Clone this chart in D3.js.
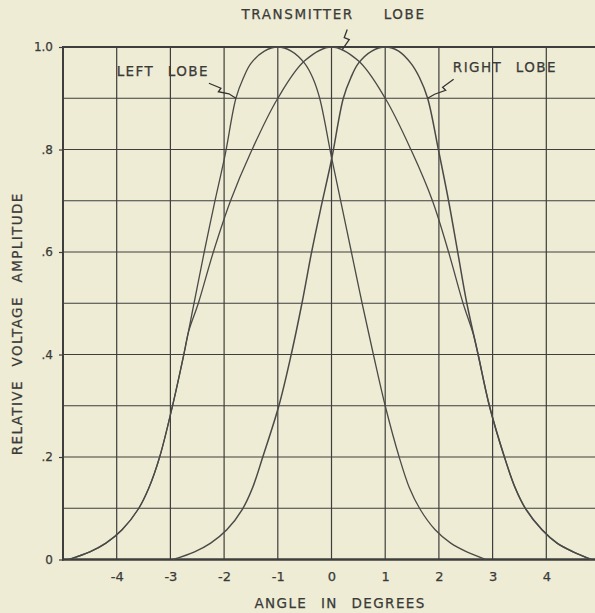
<!DOCTYPE html>
<html>
<head>
<meta charset="utf-8">
<script src="https://cdn.jsdelivr.net/npm/d3@7"></script>
<style>
  body { margin: 0; background: #eeecd5; }
  svg { display: block; }
  text { font-family: "DejaVu Sans", sans-serif; fill: #3a3a38; stroke: #3a3a38; stroke-width: 0.25px; }
</style>
</head>
<body>
<script>
// tick labels
var angleTicks = [-4, -3, -2, -1, 0, 1, 2, 3, 4];
var ampTicks = [0, 0.2, 0.4, 0.6, 0.8, 1.0];
var ampTickLabels = ["0", ".2", ".4", ".6", ".8", "1.0"];

// [angle in degrees, relative amplitude]
var leftLobe = [
  [-4.9, 0], [-4.5, 0.015], [-4.2, 0.032], [-3.9, 0.058], [-3.6, 0.098], [-3.4, 0.14],
  [-3.2, 0.20], [-2.96, 0.30], [-2.75, 0.40], [-2.56, 0.50], [-2.37, 0.60], [-2.19, 0.69],
  [-1.98, 0.79], [-1.78, 0.90], [-1.64, 0.94], [-1.5, 0.968], [-1.25, 0.992], [-1, 1],
  [-0.75, 0.992], [-0.5, 0.968], [-0.35, 0.94], [-0.22, 0.90], [0, 0.785], [0.2, 0.685],
  [0.37, 0.60], [0.57, 0.50], [0.78, 0.40], [1.0, 0.30], [1.26, 0.20], [1.45, 0.14],
  [1.65, 0.098], [1.93, 0.058], [2.22, 0.032], [2.52, 0.015], [2.88, 0]
];
var rightLobe = [
  [-2.95, 0], [-2.55, 0.015], [-2.25, 0.032], [-1.95, 0.058], [-1.66, 0.098], [-1.47, 0.14],
  [-1.28, 0.20], [-0.98, 0.30], [-0.75, 0.40], [-0.55, 0.50], [-0.37, 0.60], [-0.2, 0.685],
  [0, 0.78], [0.22, 0.90], [0.36, 0.94], [0.5, 0.968], [0.75, 0.992], [1, 1], [1.25, 0.992],
  [1.48, 0.968], [1.64, 0.94], [1.79, 0.90], [1.99, 0.80], [2.18, 0.70], [2.35, 0.60],
  [2.52, 0.50], [2.73, 0.40], [2.94, 0.30], [3.22, 0.20], [3.42, 0.14], [3.62, 0.098],
  [3.92, 0.058], [4.2, 0.032], [4.5, 0.015], [4.84, 0]
];
var transmitterLobe = [
  [-4.9, 0], [-4.5, 0.015], [-4.2, 0.032], [-3.9, 0.058], [-3.6, 0.098], [-3.4, 0.14],
  [-3.2, 0.20], [-2.96, 0.30], [-2.75, 0.40], [-2.66, 0.445], [-2.48, 0.50], [-2.2, 0.60],
  [-1.88, 0.70], [-1.5, 0.795], [-1, 0.90], [-0.5, 0.973], [0, 1], [0.5, 0.973], [1, 0.90],
  [1.5, 0.795], [1.88, 0.70], [2.18, 0.60], [2.45, 0.50], [2.64, 0.44], [2.73, 0.40],
  [2.94, 0.30], [3.22, 0.20], [3.42, 0.14], [3.62, 0.098], [3.92, 0.058], [4.2, 0.032],
  [4.5, 0.015], [4.84, 0]
];

var width = 595, height = 613;
var ink = "#3e3e3c";

var svg = d3.select("body").append("svg").attr("width", width).attr("height", height);

var x = d3.scaleLinear().domain([-5, 5]).range([63, 600]);
var y = d3.scaleLinear().domain([0, 1]).range([559.5, 47]);

// grid
var grid = svg.append("g").attr("stroke", ink).attr("stroke-width", 1.2);
grid.selectAll("line.v").data(d3.range(-4, 6)).enter().append("line")
  .attr("class", "v")
  .attr("x1", function(d){ return x(d); }).attr("x2", function(d){ return x(d); })
  .attr("y1", y(0)).attr("y2", y(1));
grid.selectAll("line.h").data(d3.range(1, 10).map(function(d){ return d / 10; })).enter().append("line")
  .attr("class", "h")
  .attr("x1", x(-5)).attr("x2", x(5))
  .attr("y1", function(d){ return y(d); }).attr("y2", function(d){ return y(d); });

// frame
svg.append("line").attr("x1", x(-5)).attr("x2", x(5)).attr("y1", y(1)).attr("y2", y(1))
  .attr("stroke", ink).attr("stroke-width", 1.8);
svg.append("line").attr("x1", x(-5)).attr("x2", x(-5)).attr("y1", y(1) - 1).attr("y2", y(0) + 1)
  .attr("stroke", ink).attr("stroke-width", 2);
svg.append("line").attr("x1", x(-5) - 1).attr("x2", x(5)).attr("y1", y(0)).attr("y2", y(0))
  .attr("stroke", ink).attr("stroke-width", 2.4);

// axes labels
var xAxis = d3.axisBottom(x).tickValues(angleTicks).tickSize(0).tickPadding(12)
  .tickFormat(function(d){ return d; });
var gx = svg.append("g").attr("transform", "translate(0," + y(0) + ")").call(xAxis);
gx.select(".domain").remove();
gx.selectAll("text").style("font-size", "13px").attr("fill", ink);

var yAxis = d3.axisLeft(y).tickValues(ampTicks).tickSize(4).tickPadding(6)
  .tickFormat(function(d, i){ return ampTickLabels[i]; });
var gy = svg.append("g").attr("transform", "translate(" + x(-5) + ",0)").call(yAxis);
gy.select(".domain").remove();
gy.selectAll("line").attr("stroke", ink).attr("stroke-width", 1.2);
gy.selectAll("text").style("font-size", "12px").attr("fill", ink);

// lobes
var line = d3.line()
  .x(function(d){ return x(d[0]); })
  .y(function(d){ return y(d[1]); })
  .curve(d3.curveCatmullRom.alpha(0.5));

[transmitterLobe, leftLobe, rightLobe].forEach(function(lobe, i){
  svg.append("path").datum(lobe)
    .attr("fill", "none")
    .attr("stroke", "#4a4a48")
    .attr("stroke-width", i == 2 ? 1.5 : 1.3)
    .attr("d", line);
});

// titles
var label = { "font-size": "13.5px", "letter-spacing": "1.4px", "word-spacing": "8px" };
function styleText(t){ for (var k in label) t.style(k, label[k]); return t; }

styleText(svg.append("text").attr("x", x(0) + 2).attr("y", 19).attr("text-anchor", "middle"))
  .style("word-spacing", "24px").style("letter-spacing", "1.6px").text("TRANSMITTER LOBE");
styleText(svg.append("text").attr("x", x(-4)).attr("y", y(0.943))
  .text("LEFT LOBE"));
styleText(svg.append("text").attr("x", x(2.26)).attr("y", y(0.952))
  .text("RIGHT LOBE"));
styleText(svg.append("text").attr("x", x(0.16)).attr("y", 608).attr("text-anchor", "middle")
  .text("ANGLE IN DEGREES"));
styleText(svg.append("text").attr("transform", "translate(22," + y(0.46) + ") rotate(-90)")
  .attr("text-anchor", "middle").text("RELATIVE VOLTAGE AMPLITUDE"));

// leader squiggles, offsets from the point on the curve
function leader(tip, pts){
  var tx = x(tip[0]), ty = y(tip[1]);
  svg.append("path")
    .attr("d", "M" + pts.map(function(p){ return (tx + p[0]) + "," + (ty + p[1]); }).join("L"))
    .attr("fill", "none").attr("stroke", "#333").attr("stroke-width", 1.3);
}
leader([-1.78, 0.9], [[-27, -15], [-15, -10], [-17.5, -6.5], [-7, -4.5], [0, 0]]);
leader([0.2, 0.995], [[5, -20], [2, -12], [7, -10], [0, 0]]);
leader([1.79, 0.9], [[26, -19], [15, -11], [18, -8], [7, -4], [0, 0]]);
</script>
</body>
</html>
